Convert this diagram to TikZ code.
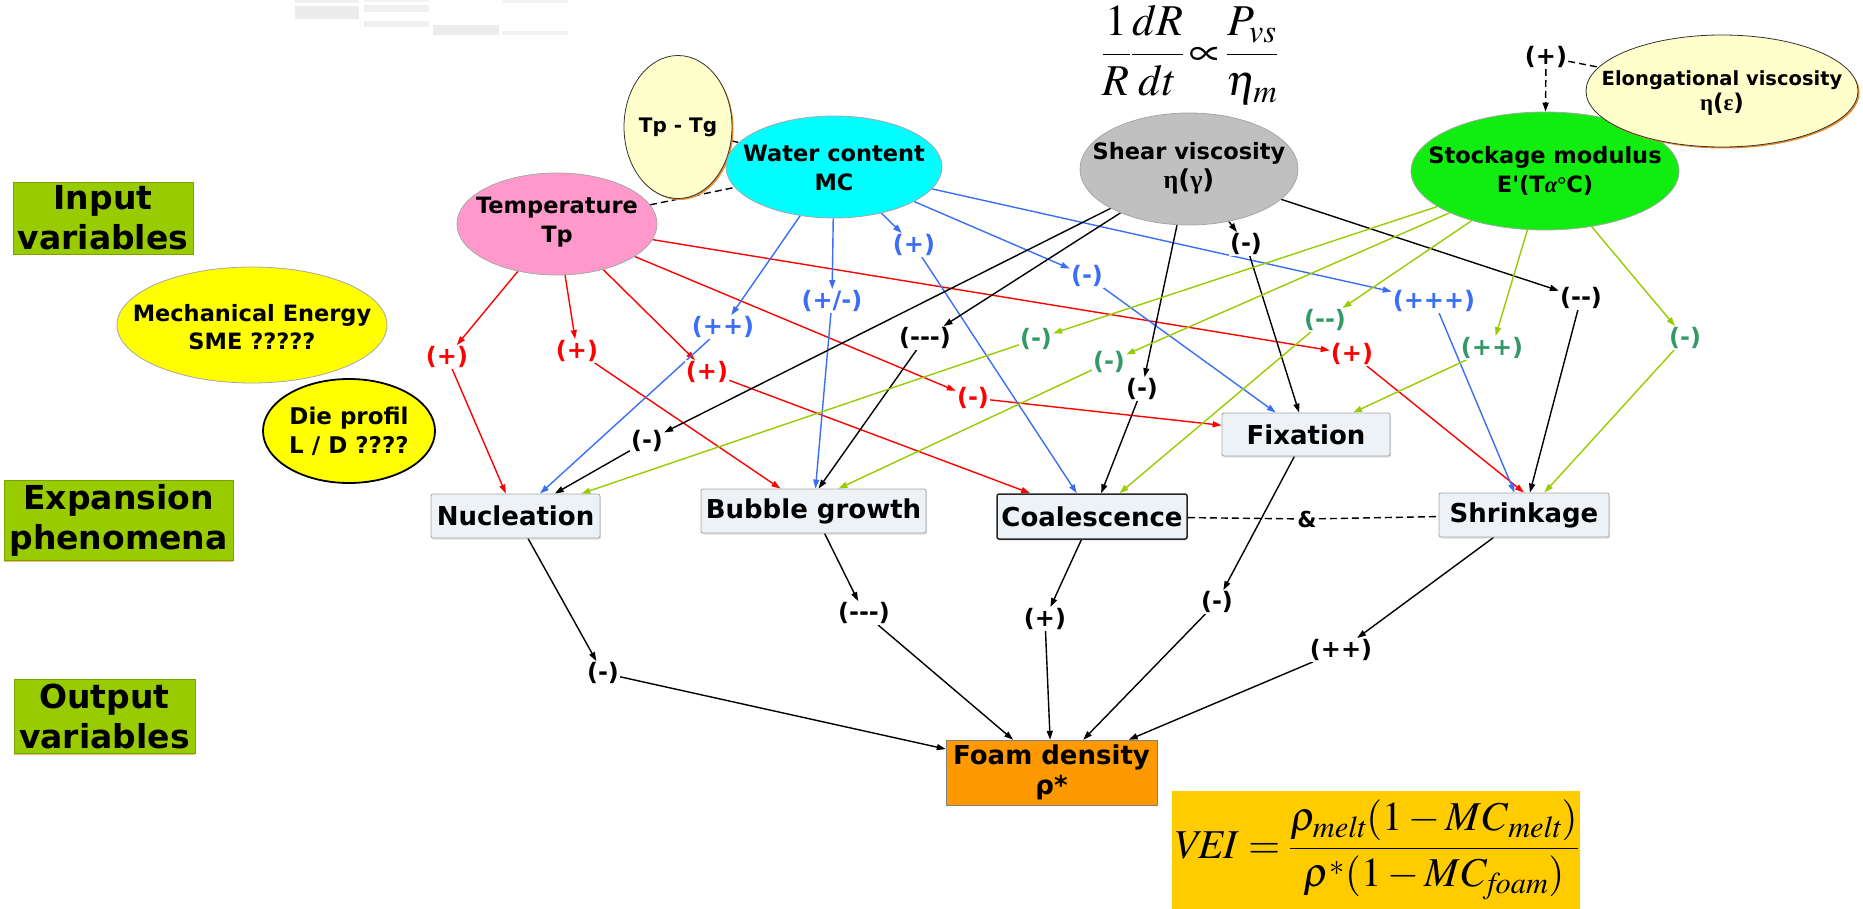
\documentclass[tikz,border=0pt]{standalone}
\usepackage{amsmath}
\usepackage{mathptmx}
\usepackage[no-math]{fontspec}
\setmainfont{DejaVu Sans}[Ligatures=TeXOff]
\newfontfamily\grk{Liberation Serif}
\usetikzlibrary{shapes.geometric,arrows.meta,shadows}
\pgfdeclarelayer{back}
\pgfsetlayers{back,main}
\definecolor{redc}{RGB}{255,0,0}
\definecolor{bluec}{RGB}{58,110,245}
\definecolor{limec}{RGB}{153,204,0}
\definecolor{tealc}{RGB}{51,153,102}
\definecolor{pinkc}{RGB}{255,153,204}
\definecolor{cyanc}{RGB}{0,255,255}
\definecolor{greyc}{RGB}{192,192,192}
\definecolor{greenc}{RGB}{17,236,17}
\definecolor{creamc}{RGB}{255,255,204}
\definecolor{yellowc}{RGB}{255,255,0}
\definecolor{boxc}{RGB}{236,242,245}
\definecolor{orangec}{RGB}{255,153,0}
\definecolor{goldc}{RGB}{255,204,0}
\definecolor{shadec}{RGB}{235,140,40}

\begin{document}
\begin{tikzpicture}[x=1pt,y=-1pt,
	var/.style={ellipse,draw=gray!70,line width=0.8pt,inner sep=0pt},
	vtext/.style={align=center,inner sep=0pt,font=\fontsize{22.5}{29}\selectfont\bfseries},
	phen/.style={draw=gray!70,line width=0.8pt,fill=boxc,rounded corners=2pt,inner sep=2pt,font=\fontsize{26}{30}\selectfont\bfseries,drop shadow={opacity=0.25,shadow xshift=1pt,shadow yshift=-1.5pt}},
	rowlabel/.style={draw=limec!80!black,fill=limec,align=center,inner sep=0pt,font=\fontsize{33}{40}\selectfont\bfseries,drop shadow={fill=shadec,opacity=0.6,shadow xshift=0pt,shadow yshift=-1.5pt}},
	sign/.style={fill=white,inner sep=1pt,font=\fontsize{24}{26}\selectfont\bfseries},
	rs/.style={sign,text=redc},
	bs/.style={sign,text=bluec},
	ts/.style={sign,text=tealc},
	ks/.style={sign,text=black},
	lk/.style={line width=1.4pt,-{Triangle[length=9pt,width=6pt]}},
	rl/.style={lk,draw=redc},
	bl/.style={lk,draw=bluec},
	gl/.style={lk,draw=limec},
	kl/.style={lk,draw=black},
	dsh/.style={line width=1.4pt,dash pattern=on 7pt off 4pt},
	]
	\useasboundingbox (0,0) rectangle (1863,909);

	\fill[gray!12] (295,0) rectangle (359,3);
	\fill[gray!15] (295,6) rectangle (359,19);
	\fill[gray!10] (364,0) rectangle (429,2);
	\fill[gray!12] (364,5) rectangle (429,12);
	\fill[gray!12] (364,21) rectangle (429,27);
	\fill[gray!15] (433,25) rectangle (499,35);
	\fill[gray!10] (502,0) rectangle (568,3);
	\fill[gray!10] (502,31) rectangle (568,35);

	\node (inrow) at (103,218) [rowlabel,minimum width=180pt,minimum height=72pt] {Input\\variables};
	\node (exrow) at (118.5,520) [rowlabel,minimum width=229pt,minimum height=80pt] {Expansion\\phenomena};
	\node (outrow) at (104.5,716) [rowlabel,minimum width=181pt,minimum height=74pt] {Output\\variables};

	\node (rate) at (1190,55) [font=\fontsize{44}{50}\selectfont] {$\displaystyle\frac{1}{R}\frac{dR}{dt}\!\propto\!\frac{P_{vs}}{\eta_m}$};

	\node (tptg) at (678,127) [var,draw=black!80,fill=creamc,minimum width=108pt,minimum height=143pt,drop shadow={fill=shadec,opacity=1,shadow xshift=1.5pt,shadow yshift=-1.5pt}] {};
	\node (tptgt) at (tptg) [vtext,font=\fontsize{20}{24}\selectfont\bfseries] {Tp - Tg};
	\node (temp) at (557,224) [var,fill=pinkc,minimum width=200pt,minimum height=102pt] {};
	\node (tempt) at (557,222) [vtext] {Temperature\\Tp};
	\node (wc) at (834,167) [var,fill=cyanc,minimum width=216pt,minimum height=102pt] {};
	\node (wct) at (834,168) [vtext] {Water content\\MC};
	\node (shear) at (1189,169) [var,fill=greyc,minimum width=218pt,minimum height=112pt] {};
	\node (sheart) at (1189,168) [vtext] {Shear viscosity\\{\fontsize{26}{29}\selectfont{\grk\bfseries η}({\grk\bfseries γ})}};
	\node (stock) at (1545,171) [var,fill=greenc,minimum width=268pt,minimum height=118pt] {};
	\node (stockt) at (1545,171) [vtext] {Stockage modulus\\E\textquotesingle(T{\grk\itshape α}{\grk °}C)};
	\node (elong) at (1722,91) [var,draw=black!80,fill=creamc,minimum width=272pt,minimum height=112pt,drop shadow={fill=shadec,opacity=1,shadow xshift=1.5pt,shadow yshift=-1.5pt}] {};
	\node (elongt) at (1722,93) [vtext,font=\fontsize{19.5}{25}\selectfont\bfseries] {Elongational viscosity\\{\fontsize{23}{25}\selectfont{\grk\bfseries η}({\grk\bfseries ε})}};
	\node (eplus) at (1546,57) [ks] {(+)};
	\node (mech) at (252,325) [var,fill=yellowc,minimum width=270pt,minimum height=116pt] {};
	\node (mecht) at (252,327) [vtext,font=\fontsize{22.5}{28}\selectfont\bfseries] {Mechanical Energy\\SME ?????};
	\node (die) at (349,431) [var,draw=black,line width=1.8pt,fill=yellowc,minimum width=172pt,minimum height=104pt] {};
	\node (diet) at (349,431) [vtext,font=\fontsize{23}{29}\selectfont\bfseries] {Die profil\\L / D ????};

	\node (nuc) at (515.5,516) [phen,minimum width=169pt,minimum height=44pt] {Nucleation};
	\node (bub) at (813.5,511) [phen,minimum width=225pt,minimum height=44pt] {Bubble growth};
	\node (coal) at (1092,516.5) [phen,draw=black!85,line width=1.5pt,minimum width=190pt,minimum height=45pt] {Coalescence};
	\node (fix) at (1306,434.5) [phen,minimum width=168pt,minimum height=43pt] {Fixation};
	\node (shr) at (1524,515) [phen,minimum width=170pt,minimum height=44pt] {Shrinkage};
	\node (amp) at (1307,519) [inner sep=2pt,font=\fontsize{22}{24}\selectfont\bfseries] {\&};

	\node (foam) at (1051.5,772.5) [draw=gray,fill=orangec,minimum width=211pt,minimum height=65pt,align=center,inner sep=0pt,font=\fontsize{26}{30}\selectfont\bfseries] {Foam density\\ρ*};
	\node (vei) at (1376,850) [fill=goldc,minimum width=408pt,minimum height=118pt,inner sep=0pt,font=\fontsize{41}{46}\selectfont] {$\mathit{VEI}=\dfrac{\rho_{\mathit{melt}}(1-\mathit{MC}_{\mathit{melt}})}{\rho^{*}(1-\mathit{MC}_{\mathit{foam}})}$};

	\node (t1) at (447,357) [rs] {(+)};
	\node (t2) at (577,351) [rs] {(+)};
	\node (t3) at (707,372) [rs] {(+)};
	\node (t4) at (973,398) [rs] {(-)};
	\node (t5) at (1352,354) [rs] {(+)};
	\node (w1) at (723,327) [bs] {(++)};
	\node (w2) at (832,301) [bs] {(+/-)};
	\node (w3) at (914,245) [bs] {(+)};
	\node (w4) at (1087,276) [bs] {(-)};
	\node (w5) at (1434,301) [bs] {(+++)};
	\node (s1) at (647,441) [ks] {(-)};
	\node (s2) at (925,338) [ks] {(---)};
	\node (s3) at (1142,389) [ks] {(-)};
	\node (s4) at (1246,244) [ks] {(-)};
	\node (s5) at (1581,298) [ks] {(--)};
	\node (m1) at (1036,339) [ts] {(-)};
	\node (m2) at (1109,362) [ts] {(-)};
	\node (m3) at (1325,320) [ts] {(--)};
	\node (m4) at (1492,348) [ts] {(++)};
	\node (m5) at (1685,338) [ts] {(-)};
	\node (o1) at (603,673) [ks] {(-)};
	\node (o2) at (864,613) [ks] {(---)};
	\node (o3) at (1045,619) [ks] {(+)};
	\node (o4) at (1217,602) [ks] {(-)};
	\node (o5) at (1341,650) [ks] {(++)};

	\begin{pgfonlayer}{back}
	\draw[dsh] (temp) -- (wc);
	\draw[dsh] (tptg) -- (wc);
	\draw[dsh] (eplus) -- (elong);
	\draw[dsh,-{Triangle[length=9pt,width=6pt]}] (eplus) -- (stock);
	\draw[dsh] (coal) -- (amp) -- (shr);

	\path (temp) edge[rl] (t1) (t1) edge[rl] (nuc);
	\path (temp) edge[rl] (t2) (t2) edge[rl] (bub);
	\path (temp) edge[rl] (t3) (t3) edge[rl] (coal);
	\path (temp) edge[rl] (t4) (t4) edge[rl] (fix);
	\path (temp) edge[rl] (t5) (t5) edge[rl] (shr.north);

	\path (wc) edge[bl] (w1) (w1) edge[bl] (nuc);
	\path (wc) edge[bl] (w2) (w2) edge[bl] (bub);
	\path (wc) edge[bl] (w3) (w3) edge[bl] (coal);
	\path (wc) edge[bl] (w4) (w4) edge[bl] (fix);
	\path (wc) edge[bl] (w5) (w5) edge[bl] (shr);

	\path (shear) edge[kl] (s1) (s1) edge[kl] (nuc);
	\path (shear) edge[kl] (s2) (s2) edge[kl] ([xshift=5pt]bub.north);
	\path (shear) edge[kl] (s3) (s3) edge[kl] (coal);
	\path (shear) edge[kl] (s4) (s4) edge[kl] (fix);
	\path (shear) edge[kl] (s5) (s5) edge[kl] (shr);

	\path (stock) edge[gl] (m1) (m1) edge[gl] (nuc);
	\path (stock) edge[gl] (m2) (m2) edge[gl] ([xshift=25pt]bub.north);
	\path (stock) edge[gl] (m3) (m3) edge[gl] (coal);
	\path (stock) edge[gl] (m4) (m4) edge[gl] (fix);
	\path (stock) edge[gl] (m5) (m5) edge[gl] (shr);

	\path (nuc) edge[kl] (o1) (o1) edge[kl] (foam);
	\path (bub) edge[kl] (o2) (o2) edge[kl] (foam);
	\path (coal) edge[kl] (o3) (o3) edge[kl] (foam);
	\path (fix) edge[kl] (o4) (o4) edge[kl] (foam);
	\path (shr) edge[kl] (o5) (o5) edge[kl] (foam);
	\end{pgfonlayer}
\end{tikzpicture}
\end{document}
